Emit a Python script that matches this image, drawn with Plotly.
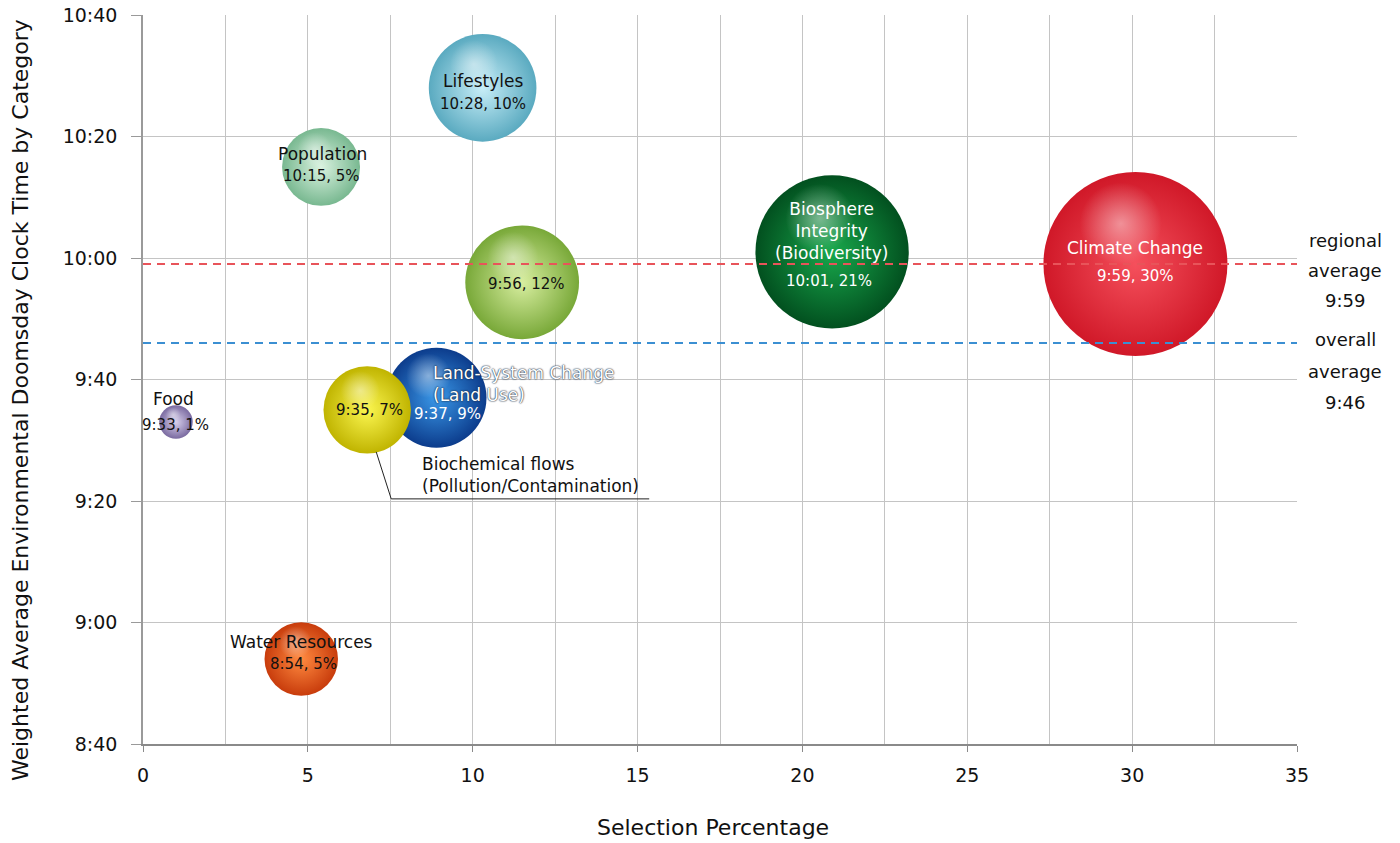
import plotly.graph_objects as go

# ---- data -------------------------------------------------------------
categories = ["Food", "Water Resources", "Population", "Lifestyles", "",
              "Biosphere<br>Integrity<br>(Biodiversity)", "Climate Change",
              "Land-System Change<br>(Land Use)",
              "Biochemical flows<br>(Pollution/Contamination)"]
share = [1.0, 4.8, 5.4, 10.3, 11.5, 20.9, 30.1, 8.9, 6.8]          # selection %
share_text = ["1%", "5%", "5%", "10%", "12%", "21%", "30%", "9%", "7%"]
clock = ["9:33", "8:54", "10:15", "10:28", "9:56", "10:01", "9:59", "9:37", "9:35"]

regional_average = "9:59"
overall_average = "9:46"

x_ticks = [0, 5, 10, 15, 20, 25, 30, 35]
y_ticks = ["8:40", "9:00", "9:20", "9:40", "10:00", "10:20", "10:40"]

# ---- styling ------------------------------------------------------------
edge_col = ["#7a6aa0", "#c83c0c", "#78b890", "#5aaac0", "#78a838",
            "#02501f", "#d01828", "#0c3c8c", "#c0b400"]
center_col = ["#d8d0ec", "#ff8a40", "#daf2e0", "#c8eef8", "#d8eea0",
              "#18a84c", "#f5505c", "#3a98e8", "#fbf650"]
text_col = ["#111", "#111", "#111", "#111", "#111", "white", "white", "white", "#111"]

W, H = 1400, 843
M = dict(l=143, r=103, t=15, b=99)
PW, PH = W - M["l"] - M["r"], H - M["t"] - M["b"]


def minutes(t):
    h, m = t.split(":")
    return int(h) * 60 + int(m)


y_vals = [minutes(t) for t in clock]
y_range = [minutes(y_ticks[0]), minutes(y_ticks[-1])]
x_range = [x_ticks[0], x_ticks[-1]]
px_x = (x_range[1] - x_range[0]) / PW
px_y = (y_range[1] - y_range[0]) / PH

max_d = 184
sizeref = 2.0 * max(share) / max_d ** 2

fig = go.Figure()

# reference lines
for t, col in [(regional_average, "#e8545a"), (overall_average, "#3b8fd2")]:
    fig.add_shape(type="line", xref="x", yref="y", x0=x_range[0], x1=x_range[1],
                  y0=minutes(t), y1=minutes(t),
                  line=dict(color=col, width=2, dash="8px,6px"), layer="above")

# bubbles with a soft sphere shading
for i, cat in enumerate(categories):
    d = max_d * (share[i] / max(share)) ** 0.5
    fig.add_trace(go.Scatter(
        x=[share[i]], y=[y_vals[i]], mode="markers", hoverinfo="skip",
        marker=dict(size=[share[i]], sizemode="area", sizeref=sizeref, opacity=1,
                    color=edge_col[i], line=dict(width=0),
                    gradient=dict(type="radial", color=center_col[i])),
        showlegend=False))
    fig.add_trace(go.Scatter(
        x=[share[i] - 0.08 * d * px_x], y=[y_vals[i] + 0.22 * d * px_y],
        mode="markers", hoverinfo="skip",
        marker=dict(size=[share[i] * 0.2], sizemode="area", sizeref=sizeref, opacity=1,
                    color="rgba(255,255,255,0)", line=dict(width=0),
                    gradient=dict(type="radial", color="rgba(255,255,255,0.45)")),
        showlegend=False))

# label offsets (pixels) relative to each bubble centre
name_pos = [(-2, 23, "center"), (0, 17, "center"), (1, 13, "center"), (0, 7, "center"),
            None, (-1, 21, "center"), (0, 16, "center"), (-5, 14, "left"), (53, -65, "left")]
value_pos = [(0, -3), (2, -5), (0, -9), (0, -16), (4, -2), (-3, -29), (0, -12), (11, -16), (2, 0)]

for i, cat in enumerate(categories):
    np_ = name_pos[i]
    if np_ is not None and cat:
        dx, dy, al = np_
        font = dict(family="DejaVu Sans", size=17, color=text_col[i])
        if i == 7:
            font["shadow"] = "0px 0px 1.5px #1a2a40, 0px 0px 1.5px #1a2a40"
        fig.add_annotation(x=share[i], y=y_vals[i], xref="x", yref="y", text=cat,
                           showarrow=False, xshift=dx, yshift=dy, align=al,
                           xanchor=al if al == "left" else "center", yanchor="middle",
                           font=font)
    dx, dy = value_pos[i]
    fig.add_annotation(x=share[i], y=y_vals[i], xref="x", yref="y",
                       text=f"{clock[i]}, {share_text[i]}", showarrow=False,
                       xshift=dx, yshift=dy, xanchor="center", yanchor="middle",
                       font=dict(family="DejaVu Sans", size=15, color=text_col[i]))

# leader line for the pollution label
bi = 8
fig.add_shape(type="path", xref="x", yref="y", xsizemode="pixel", ysizemode="pixel",
              xanchor=share[bi], yanchor=y_vals[bi],
              path="M 9,-42 L 24,-89 L 282,-89", line=dict(color="#222", width=1))

# right-hand average captions
for t, lines, shifts in [(regional_average, ["regional", "average", regional_average], [24, -6, -36]),
                         (overall_average, ["overall", "average", overall_average], [4, -28, -59])]:
    for txt, s in zip(lines, shifts):
        fig.add_annotation(x=1.0416, xref="paper", y=minutes(t), yref="y", text=txt,
                           showarrow=False, yshift=s, xanchor="center", yanchor="middle",
                           font=dict(family="DejaVu Sans", size=18, color="#111"))

# axis titles
fig.add_annotation(x=0.494, xref="paper", y=-(827 - 744) / PH, yref="paper",
                   text="Selection Percentage", showarrow=False, yanchor="middle",
                   font=dict(family="DejaVu Sans", size=22, color="#111"))
fig.add_annotation(x=(20 - M["l"]) / PW, xref="paper", y=1 - (400 - M["t"]) / PH, yref="paper",
                   text="Weighted Average Environmental Doomsday Clock Time by Category",
                   textangle=-90, showarrow=False, xanchor="center", yanchor="middle",
                   font=dict(family="DejaVu Sans", size=22, color="#111"))

grid = "#c4c4c4"
fig.update_layout(
    width=W, height=H, margin=M, paper_bgcolor="white", plot_bgcolor="white",
    showlegend=False,
    xaxis=dict(range=x_range, tickvals=x_ticks, showgrid=True, gridcolor=grid, gridwidth=1,
               minor=dict(dtick=2.5, tick0=0, showgrid=True, gridcolor=grid, gridwidth=1),
               zeroline=False, showline=True, linecolor="#8a8a8a", linewidth=2,
               ticks="outside", ticklen=6, tickcolor="#8a8a8a", ticklabelstandoff=7,
               automargin=False,
               tickfont=dict(family="DejaVu Sans", size=19, color="#111"), fixedrange=True),
    yaxis=dict(range=y_range, tickvals=[minutes(t) for t in y_ticks], ticktext=y_ticks,
               showgrid=True, gridcolor=grid, gridwidth=1, zeroline=False,
               showline=True, linecolor="#9a9a9a", linewidth=1.5,
               ticks="outside", ticklen=10, tickcolor="#9a9a9a", ticklabelstandoff=10,
               automargin=False,
               tickfont=dict(family="DejaVu Sans", size=19, color="#111"), fixedrange=True),
)

fig.write_html("out.html")
